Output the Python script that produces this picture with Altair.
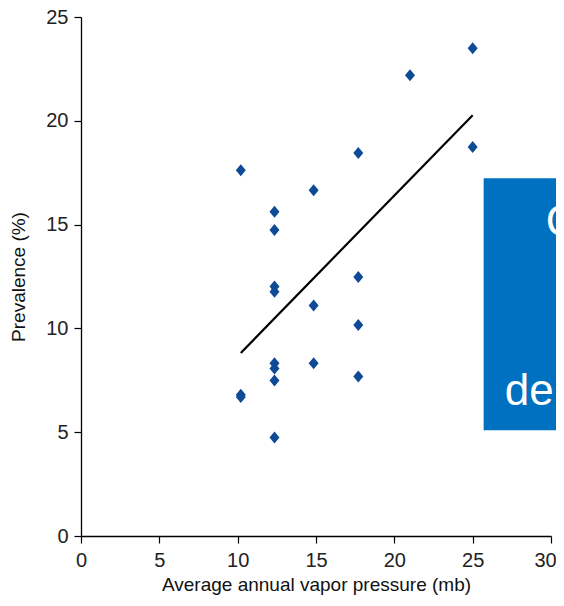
import altair as alt
import pandas as pd

# Scatter data
vapor = [10.2, 12.35, 12.35, 14.85, 17.7, 21.0, 25.0, 25.0, 12.35, 12.35, 17.7,
         14.85, 17.7, 12.35, 12.35, 14.85, 12.35, 17.7, 10.2, 10.2, 12.35]
prevalence = [17.62, 15.62, 14.74, 16.66, 18.45, 22.2, 23.5, 18.74, 12.02, 11.76, 12.48,
              11.1, 10.16, 8.32, 8.07, 8.32, 7.49, 7.68, 6.8, 6.69, 4.75]

# Fitted line endpoints
line_x = [10.2, 25.0]
line_y = [8.82, 20.27]

# Overlay box (in data units) and its text
box_x = [25.7]
box_x2 = [31.0]
box_y = [17.23]
box_y2 = [5.09]
texts = ["C", "de v"]
text_x = [29.67, 27.05]
text_y = [14.45, 6.29]

pts = pd.DataFrame({"x": vapor, "y": prevalence})
ln = pd.DataFrame({"x": line_x, "y": line_y})
bx = pd.DataFrame({"x": box_x, "x2": box_x2, "y": box_y, "y2": box_y2})
tx = pd.DataFrame({"t": texts, "x": text_x, "y": text_y})

xs = alt.Scale(domain=[0, 30], nice=False)
ys = alt.Scale(domain=[0, 25], nice=False)

axis_common = dict(
    domainColor="black", domainWidth=1.3, tickColor="black", tickWidth=1.2,
    tickSize=7, labelFontSize=20, labelColor="#222222", labelFont="Liberation Sans",
    labelFlush=False,
    titleFontSize=19, titleColor="#111111", titleFont="Liberation Sans",
    titleFontWeight="normal", grid=False,
)

points = alt.Chart(pts).mark_point(
    shape="M0,-1.2L1,0L0,1.2L-1,0Z", filled=True, size=100, color="#0f4a97", opacity=1
).encode(
    x=alt.X("x:Q", scale=xs, axis=alt.Axis(
        values=[0, 5, 10, 15, 20, 25, 30], labelPadding=7,
        labelOffset={"condition": {"test": "datum.value === 30", "value": -6}, "value": 0},
        title="Average annual vapor pressure (mb)",
        titlePadding=5, **axis_common)),
    y=alt.Y("y:Q", scale=ys, axis=alt.Axis(values=[0, 5, 10, 15, 20, 25], labelPadding=6,
                                            title="Prevalence (%)", titlePadding=17,
                                            **axis_common)),
)

line = alt.Chart(ln).mark_line(color="black", strokeWidth=2.2).encode(
    x=alt.X("x:Q", scale=xs), y=alt.Y("y:Q", scale=ys)
)

box = alt.Chart(bx).mark_rect(color="#0070c0", clip=False).encode(
    x=alt.X("x:Q", scale=xs), x2="x2:Q", y=alt.Y("y:Q", scale=ys), y2="y2:Q"
)

label = alt.Chart(tx).mark_text(
    color="white", fontSize=44, font="Liberation Sans",
    align="left", baseline="alphabetic"
).encode(x=alt.X("x:Q", scale=xs), y=alt.Y("y:Q", scale=ys), text="t:N")

chart = alt.layer(points, line, box, label).properties(
    width=470, height=519,
    autosize=alt.AutoSizeParams(type="none"),
    padding={"left": 73, "top": 9, "right": 5, "bottom": 61},
).configure_view(stroke=None)

chart.save("out.html", embed_options={"renderer": "svg", "actions": False})
